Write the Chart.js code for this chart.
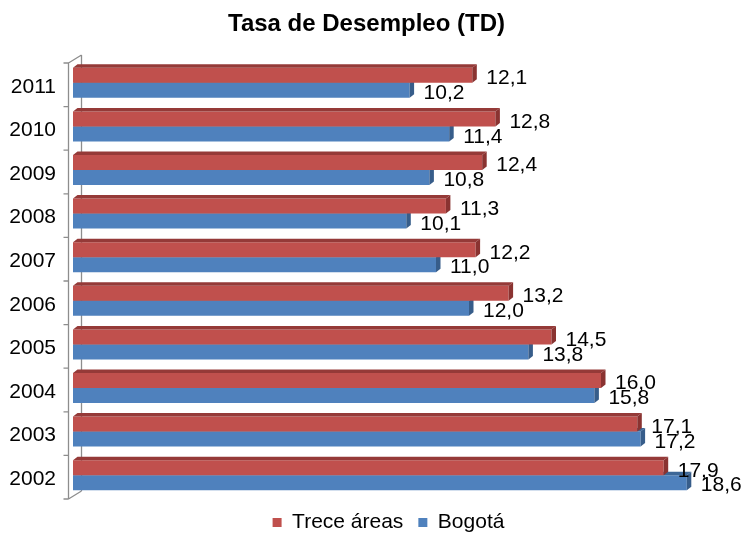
<!DOCTYPE html>
<html>
<head>
<meta charset="utf-8">
<script src="https://cdn.jsdelivr.net/npm/chart.js@4.4.0/dist/chart.umd.min.js"></script>
<style>
  html, body { margin: 0; padding: 0; background: #fff; }
  canvas { display: block; }
</style>
</head>
<body>
<canvas id="chart-td" width="741" height="534"></canvas>
<script>
// === Datos: Tasa de Desempleo (TD) ===
const anios = ['2011', '2010', '2009', '2008', '2007', '2006', '2005', '2004', '2003', '2002'];
const treceAreas = [12.1, 12.8, 12.4, 11.3, 12.2, 13.2, 14.5, 16.0, 17.1, 17.9];
const bogota = [10.2, 11.4, 10.8, 10.1, 11.0, 12.0, 13.8, 15.8, 17.2, 18.6];
const nombresSeries = ['Trece áreas', 'Bogotá'];
const ejeMax = 20;

const FUENTE = "'Liberation Sans', Arial, sans-serif";

// caras oscuras del efecto 3D (arriba, lado) por serie
const caras = [
  ['#953a38', '#8a3331'],
  ['#3d6797', '#375d8a']
];

// === Pared lateral 3D con marcas entre categorias ===
const pared = {
  id: 'pared',
  beforeDatasetsDraw(chart) {
    const { ctx, chartArea: a } = chart;
    const fx = a.left - 4.5, off = 2, dx = 13, dy = 8;
    const paso = a.height / anios.length;
    ctx.save();
    ctx.strokeStyle = '#8d8d8d';
    ctx.lineWidth = 1.3;
    ctx.beginPath();
    // linea frontal
    ctx.moveTo(fx, a.top + off);
    ctx.lineTo(fx, a.bottom + off);
    // linea del fondo
    ctx.moveTo(fx + dx, a.top + off - dy);
    ctx.lineTo(fx + dx, a.bottom + off - dy);
    // diagonales
    ctx.moveTo(fx, a.top + off);
    ctx.lineTo(fx + dx, a.top + off - dy);
    ctx.moveTo(fx, a.bottom + off);
    ctx.lineTo(fx + dx, a.bottom + off - dy);
    // marcas
    for (let i = 0; i <= anios.length; i++) {
      const yy = a.top + off + i * paso;
      ctx.moveTo(fx - 5, yy);
      ctx.lineTo(fx, yy);
    }
    ctx.stroke();
    ctx.restore();
  }
};

// === Relieve 3D de cada barra ===
const relieve = {
  id: 'relieve',
  afterDatasetDraw(chart, args) {
    const { ctx } = chart;
    const [cArriba, cLado] = caras[args.index];
    const dx = 4.5, dy = 3.5;
    args.meta.data.forEach(bar => {
      const { x, y, base, height } = bar.getProps(['x', 'y', 'base', 'height'], true);
      const t = y - height / 2, b = y + height / 2;
      ctx.save();
      ctx.fillStyle = cArriba;
      ctx.beginPath();
      ctx.moveTo(base, t);
      ctx.lineTo(base + dx, t - dy);
      ctx.lineTo(x + dx, t - dy);
      ctx.lineTo(x, t);
      ctx.closePath();
      ctx.fill();
      ctx.fillStyle = cLado;
      ctx.beginPath();
      ctx.moveTo(x, t);
      ctx.lineTo(x + dx, t - dy);
      ctx.lineTo(x + dx, b - dy);
      ctx.lineTo(x, b);
      ctx.closePath();
      ctx.fill();
      ctx.restore();
    });
  }
};

// === Etiquetas de valor (coma decimal) ===
const etiquetas = {
  id: 'etiquetas',
  afterDatasetsDraw(chart) {
    const { ctx } = chart;
    ctx.save();
    ctx.font = '21px ' + FUENTE;
    ctx.fillStyle = '#000';
    ctx.textAlign = 'left';
    ctx.textBaseline = 'middle';
    chart.data.datasets.forEach((ds, i) => {
      chart.getDatasetMeta(i).data.forEach((bar, j) => {
        const txt = ds.data[j].toFixed(1).replace('.', ',');
        ctx.fillText(txt, bar.x + 14, bar.y + 3);
      });
    });
    ctx.restore();
  }
};

// === Ajuste horizontal de la leyenda ===
const leyendaPos = {
  id: 'leyendaPos',
  afterLayout(chart) {
    chart.legend.left += 22;
    chart.legend.right += 22;
  }
};

const ctx = document.getElementById('chart-td').getContext('2d');
new Chart(ctx, {
  type: 'bar',
  data: {
    labels: anios,
    datasets: [
      { label: nombresSeries[0], data: treceAreas, backgroundColor: '#c0504d', borderWidth: 0 },
      { label: nombresSeries[1], data: bogota, backgroundColor: '#4f81bd', borderWidth: 0 }
    ]
  },
  options: {
    indexAxis: 'y',
    responsive: false,
    animation: false,
    devicePixelRatio: 1,
    categoryPercentage: 0.687,
    barPercentage: 1,
    layout: { padding: { top: 0, left: 0, right: 8, bottom: -9 } },
    scales: {
      x: { display: false, min: 0, max: ejeMax },
      y: {
        grid: { display: false, drawTicks: false },
        border: { display: false },
        ticks: { color: '#000', font: { family: FUENTE, size: 21 }, padding: 17, labelOffset: 4 },
        afterFit(scale) { scale.width = 73; }
      }
    },
    plugins: {
      title: {
        display: true,
        text: 'Tasa de Desempleo (TD)',
        color: '#000',
        font: { family: FUENTE, size: 24, weight: 'bold' },
        padding: { top: 10, bottom: 22.2 }
      },
      legend: {
        position: 'bottom',
        labels: {
          color: '#000',
          font: { family: FUENTE, size: 21 },
          boxWidth: 9,
          boxHeight: 9,
          padding: 15
        }
      },
      tooltip: { enabled: false }
    }
  },
  plugins: [pared, relieve, etiquetas, leyendaPos]
});
</script>
</body>
</html>
